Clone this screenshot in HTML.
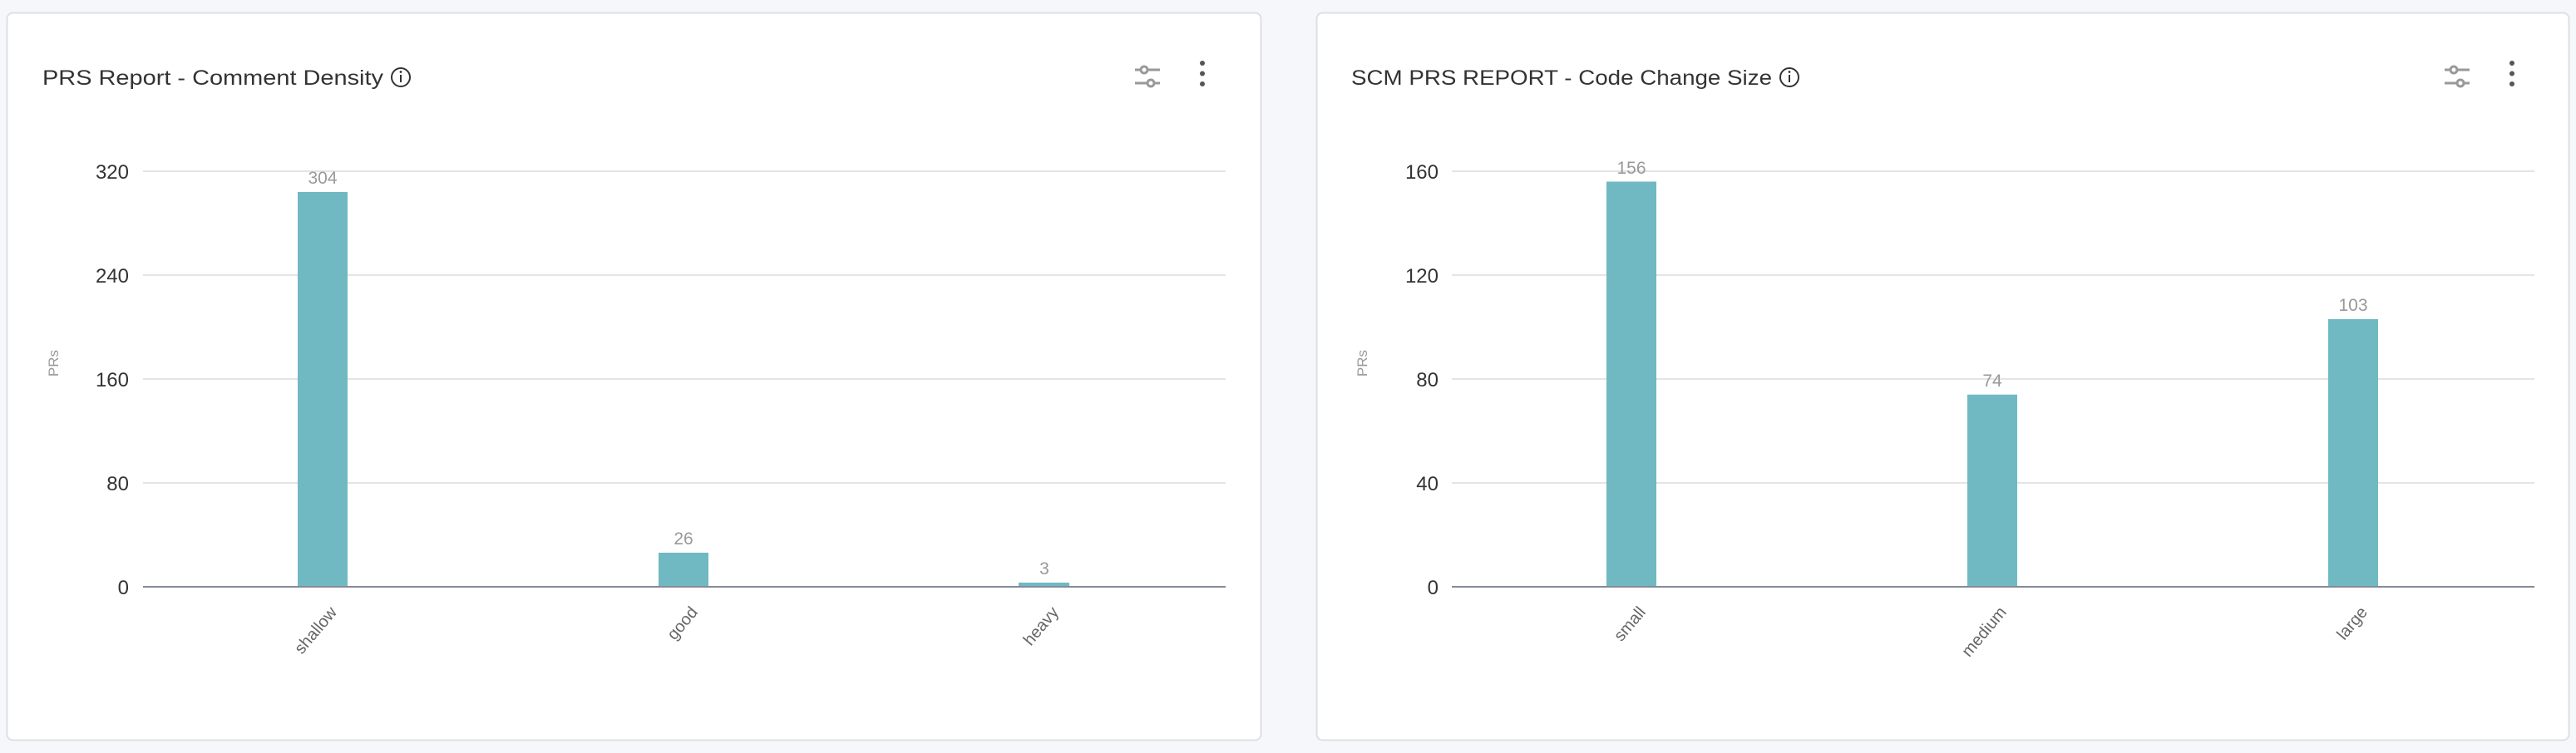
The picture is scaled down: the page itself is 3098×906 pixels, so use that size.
<!DOCTYPE html>
<html><head><meta charset="utf-8"><style>
html,body{margin:0;padding:0;background:#f6f7fb;}
svg{display:block;}
text{font-family:"Liberation Sans",sans-serif;}
</style></head><body>
<svg width="3098" height="906" viewBox="0 0 3098 906" xmlns="http://www.w3.org/2000/svg">
<rect x="0" y="0" width="3098" height="906" fill="#f6f7fb"/>
<!-- Left card -->
<rect x="8.5" y="15.5" width="1508" height="875" rx="7" fill="#fff" stroke="#dedfe5" stroke-width="2"/>
<text x="51" y="102" font-size="25" font-weight="500" fill="#333" textLength="410" lengthAdjust="spacingAndGlyphs">PRS Report - Comment Density</text>
<circle cx="482" cy="93" r="11" fill="none" stroke="#333" stroke-width="2"/>
<rect x="481" y="90" width="2" height="9" fill="#333"/><circle cx="482" cy="86.5" r="1.4" fill="#333"/>
<g fill="#999" stroke="#999" stroke-width="3">
<line x1="1365" y1="84" x2="1395" y2="84"/><line x1="1365" y1="100" x2="1395" y2="100"/>
</g>
<circle cx="1376" cy="84" r="4" fill="#fff" stroke="#999" stroke-width="3"/>
<circle cx="1384" cy="100" r="4" fill="#fff" stroke="#999" stroke-width="3"/>
<g fill="#555"><circle cx="1446" cy="76" r="3"/><circle cx="1446" cy="88.5" r="3"/><circle cx="1446" cy="101" r="3"/></g>

<g stroke="#e4e4e4" stroke-width="2">
<line x1="172" y1="206" x2="1474" y2="206"/><line x1="172" y1="331" x2="1474" y2="331"/>
<line x1="172" y1="456" x2="1474" y2="456"/><line x1="172" y1="581" x2="1474" y2="581"/>
</g>
<g font-size="24" fill="#333" text-anchor="end">
<text x="155" y="215">320</text><text x="155" y="340">240</text><text x="155" y="465">160</text>
<text x="155" y="590">80</text><text x="155" y="715">0</text>
</g>
<text transform="translate(70,437) rotate(-90)" font-size="17" fill="#999" text-anchor="middle">PRs</text>
<g fill="#70b9c2">
<rect x="358" y="231" width="60" height="475"/>
<rect x="792" y="665" width="60" height="41"/>
<rect x="1225" y="701" width="61" height="5"/>
</g>
<line x1="172" y1="706" x2="1474" y2="706" stroke="#868a98" stroke-width="2"/>
<g font-size="21" fill="#999" text-anchor="middle">
<text x="388" y="221">304</text><text x="822" y="655">26</text><text x="1256" y="691">3</text>
</g>
<g font-size="20" fill="#666" text-anchor="end">
<text transform="translate(406,737) rotate(-50)">shallow</text>
<text transform="translate(840,737) rotate(-50)">good</text>
<text transform="translate(1274,737) rotate(-50)">heavy</text>
</g>

<!-- Right card -->
<rect x="1583.5" y="15.5" width="1506" height="875" rx="7" fill="#fff" stroke="#dedfe5" stroke-width="2"/>
<text x="1625" y="102" font-size="25" font-weight="500" fill="#333" textLength="506" lengthAdjust="spacingAndGlyphs">SCM PRS REPORT - Code Change Size</text>
<circle cx="2152" cy="93" r="11" fill="none" stroke="#333" stroke-width="2"/>
<rect x="2151" y="90" width="2" height="9" fill="#333"/><circle cx="2152" cy="86.5" r="1.4" fill="#333"/>
<g fill="#999" stroke="#999" stroke-width="3">
<line x1="2940" y1="84" x2="2970" y2="84"/><line x1="2940" y1="100" x2="2970" y2="100"/>
</g>
<circle cx="2951" cy="84" r="4" fill="#fff" stroke="#999" stroke-width="3"/>
<circle cx="2959" cy="100" r="4" fill="#fff" stroke="#999" stroke-width="3"/>
<g fill="#555"><circle cx="3021" cy="76" r="3"/><circle cx="3021" cy="88.5" r="3"/><circle cx="3021" cy="101" r="3"/></g>

<g stroke="#e4e4e4" stroke-width="2">
<line x1="1746" y1="206" x2="3048" y2="206"/><line x1="1746" y1="331" x2="3048" y2="331"/>
<line x1="1746" y1="456" x2="3048" y2="456"/><line x1="1746" y1="581" x2="3048" y2="581"/>
</g>
<g font-size="24" fill="#333" text-anchor="end">
<text x="1730" y="215">160</text><text x="1730" y="340">120</text><text x="1730" y="465">80</text>
<text x="1730" y="590">40</text><text x="1730" y="715">0</text>
</g>
<text transform="translate(1644,437) rotate(-90)" font-size="17" fill="#999" text-anchor="middle">PRs</text>
<g fill="#70b9c2">
<rect x="1932" y="218.5" width="60" height="487.5"/>
<rect x="2366" y="474.75" width="60" height="231.25"/>
<rect x="2800" y="384" width="60" height="322"/>
</g>
<line x1="1746" y1="706" x2="3048" y2="706" stroke="#868a98" stroke-width="2"/>
<g font-size="21" fill="#999" text-anchor="middle">
<text x="1962" y="209">156</text><text x="2396" y="465">74</text><text x="2830" y="374">103</text>
</g>
<g font-size="20" fill="#666" text-anchor="end">
<text transform="translate(1980,737) rotate(-50)">small</text>
<text transform="translate(2414,737) rotate(-50)">medium</text>
<text transform="translate(2848,737) rotate(-50)">large</text>
</g>
</svg>
</body></html>
